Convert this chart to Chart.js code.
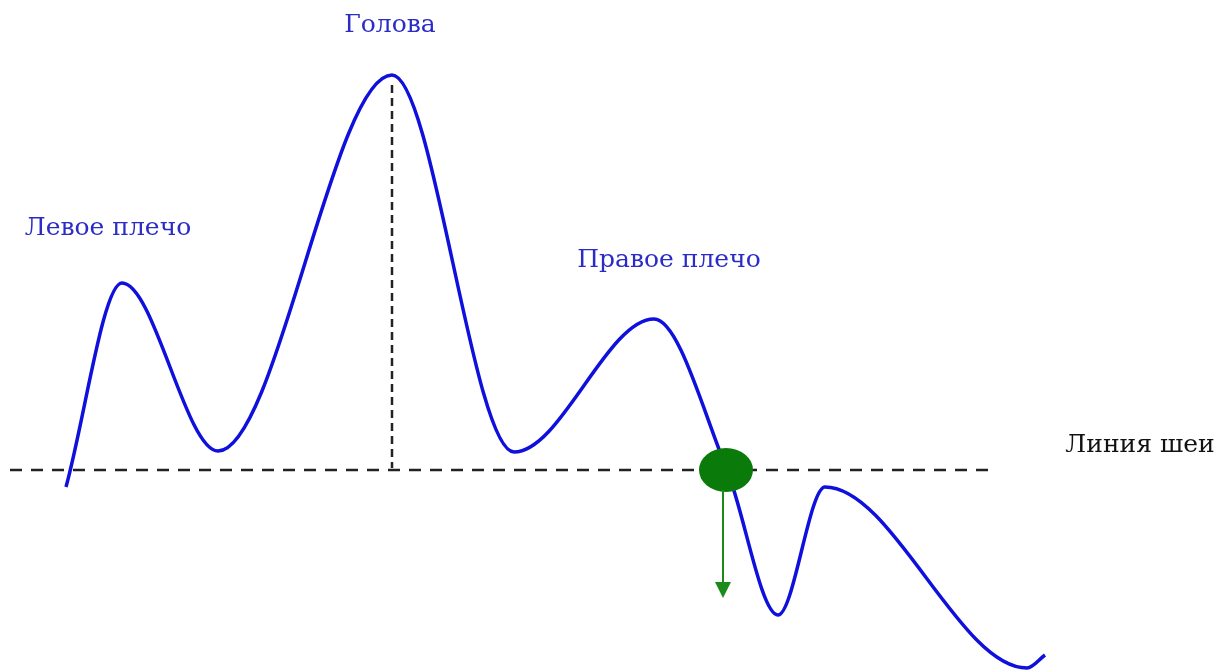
<!DOCTYPE html>
<html>
<head>
<meta charset="utf-8">
<script src="https://cdn.jsdelivr.net/npm/chart.js@4/dist/chart.umd.min.js"></script>
<style>
  body { margin: 0; background: #fff; }
  canvas { display: block; }
</style>
</head>
<body>
<canvas id="myChart" width="1221" height="671"></canvas>
<script>
// price path of the pattern: turning points (y grows downward)
let priceX = [66, 122, 218, 392, 514, 654, 727, 778, 825, 1027, 1045];
let priceY = [487, 283, 451, 75, 452, 319, 470, 615, 487, 668, 655];

let necklineX = [10, 990];
let necklineY = [470, 470];

let headLineX = [392, 392];
let headLineY = [85, 468];

let breakPoint = { x: 726, y: 470 };
let targetArrow = { x: 723, from: 490, to: 598 };

let labels = [
  { text: "Голова", x: 390, y: 25, color: "#2b2bc8" },
  { text: "Левое плечо", x: 108, y: 228, color: "#2b2bc8" },
  { text: "Правое плечо", x: 669, y: 260, color: "#2b2bc8" },
  { text: "Линия шеи", x: 1140, y: 445, color: "#111111" }
];

function toPoints(xs, ys) {
  return xs.map((x, i) => ({ x: x, y: ys[i] }));
}

let extras = {
  id: "extras",
  afterDatasetsDraw(chart) {
    let ctx = chart.ctx;
    let sx = chart.scales.x;
    let sy = chart.scales.y;

    // green breakout marker
    ctx.save();
    ctx.fillStyle = "#0a7a0a";
    ctx.beginPath();
    ctx.ellipse(sx.getPixelForValue(breakPoint.x), sy.getPixelForValue(breakPoint.y), 27, 22, 0, 0, Math.PI * 2);
    ctx.fill();

    // arrow down
    let ax = sx.getPixelForValue(targetArrow.x);
    let y1 = sy.getPixelForValue(targetArrow.from);
    let y2 = sy.getPixelForValue(targetArrow.to);
    ctx.strokeStyle = "#1a8a1a";
    ctx.lineWidth = 2;
    ctx.beginPath();
    ctx.moveTo(ax, y1);
    ctx.lineTo(ax, y2 - 12);
    ctx.stroke();
    ctx.fillStyle = "#1a8a1a";
    ctx.beginPath();
    ctx.moveTo(ax - 8, y2 - 16);
    ctx.lineTo(ax + 8, y2 - 16);
    ctx.lineTo(ax, y2);
    ctx.closePath();
    ctx.fill();

    // captions
    ctx.font = "25px 'DejaVu Serif', serif";
    ctx.textAlign = "center";
    ctx.textBaseline = "middle";
    labels.forEach((l) => {
      ctx.fillStyle = l.color;
      ctx.fillText(l.text, sx.getPixelForValue(l.x), sy.getPixelForValue(l.y));
    });
    ctx.restore();
  }
};

new Chart("myChart", {
  type: "scatter",
  data: {
    datasets: [
      {
        data: toPoints(necklineX, necklineY),
        showLine: true,
        borderColor: "#222222",
        borderWidth: 2.5,
        borderDash: [12, 9],
        pointRadius: 0
      },
      {
        data: toPoints(headLineX, headLineY),
        showLine: true,
        borderColor: "#222222",
        borderWidth: 2.5,
        borderDash: [8, 5],
        pointRadius: 0
      },
      {
        data: toPoints(priceX, priceY),
        showLine: true,
        borderColor: "#1010dd",
        borderWidth: 3.5,
        cubicInterpolationMode: "monotone",
        pointRadius: 0
      }
    ]
  },
  plugins: [extras],
  options: {
    responsive: false,
    animation: false,
    layout: { padding: 0 },
    plugins: { legend: { display: false }, tooltip: { enabled: false } },
    scales: {
      x: { type: "linear", min: 0, max: 1221, display: false },
      y: { type: "linear", min: 0, max: 671, reverse: true, display: false }
    }
  }
});
</script>
</body>
</html>
